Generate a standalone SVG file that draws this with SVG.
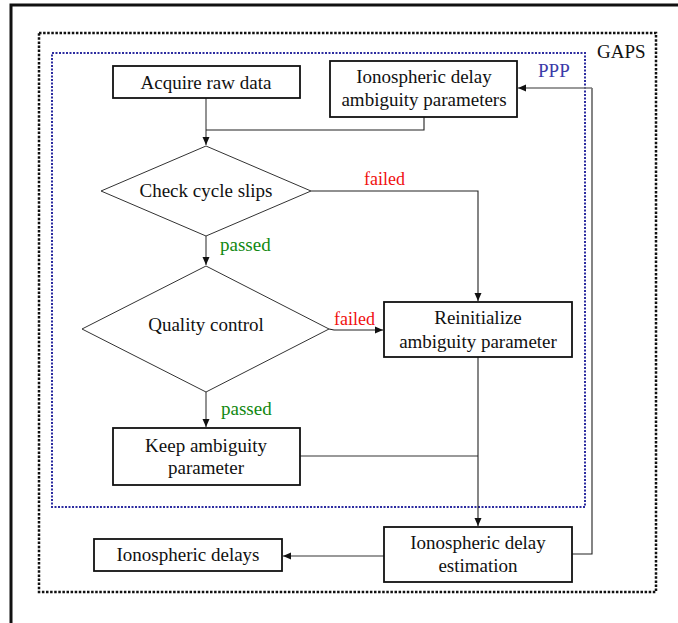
<svg xmlns="http://www.w3.org/2000/svg" width="678" height="623" viewBox="0 0 678 623">
<style>
text{font-family:'Liberation Serif','Times New Roman',serif;font-size:19px;fill:#111}
.box{fill:#fff;stroke:#111;stroke-width:1.8}
.dia{fill:#fff;stroke:#333;stroke-width:1}
.ln{fill:none;stroke:#222;stroke-width:1.1}
.lg{fill:none;stroke:#777;stroke-width:1.6}
</style>
<defs>
<marker id="ah" viewBox="0 0 8 8" refX="8" refY="4" markerWidth="8" markerHeight="8" markerUnits="userSpaceOnUse" orient="auto">
<path d="M0,0.5 L8,4 L0,7.5 Z" fill="#111"/>
</marker>
</defs>
<rect x="11" y="5" width="720" height="720" fill="#fff" stroke="#111" stroke-width="3"/>
<g id="gaps">
<rect x="39" y="33" width="617" height="559" fill="none" stroke="#111" stroke-width="2.5" stroke-dasharray="2.5 1.6"/>
<text x="597" y="58">GAPS</text>
</g>
<g id="ppp">
<rect x="52" y="53" width="533" height="454" fill="none" stroke="#2c2ca0" stroke-width="2" stroke-dasharray="2 1.5"/>
<text x="538" y="77" style="fill:#3a3aa8">PPP</text>
</g>
<g id="connectors">
<path class="lg" d="M206,98 V145" marker-end="url(#ah)"/>
<path class="ln" d="M424,117 V130 H206"/>
<path class="ln" d="M311,191 H478 V301" marker-end="url(#ah)"/>
<path class="lg" d="M206,236 V265" marker-end="url(#ah)"/>
<path class="ln" d="M329,329 L334,330 H383" marker-end="url(#ah)"/>
<path class="lg" d="M206,392 V427" marker-end="url(#ah)"/>
<path class="lg" d="M300,456 H478"/>
<path class="ln" d="M478,357 V526" marker-end="url(#ah)"/>
<path class="lg" d="M384,556 H283" marker-end="url(#ah)"/>
<path class="ln" d="M572,554 H592 V88"/>
<path class="lg" d="M592,88 H518" marker-end="url(#ah)"/>
<text x="364" y="185" style="fill:#f01010;font-size:18px">failed</text>
<text x="334" y="325" style="fill:#f01010;font-size:18px">failed</text>
<text x="220" y="251" style="fill:#118811">passed</text>
<text x="221" y="415" style="fill:#118811">passed</text>
</g>
<g id="acquire">
<rect class="box" x="113" y="66" width="187" height="32"/>
<text x="206" y="89" text-anchor="middle">Acquire raw data</text>
</g>
<g id="ionoparams">
<rect class="box" x="330" y="61" width="187" height="56"/>
<text x="424" y="83" text-anchor="middle">Ionospheric delay</text>
<text x="424" y="106" text-anchor="middle">ambiguity parameters</text>
</g>
<g id="cycleslips">
<polygon class="dia" points="206,146 311,191 206,236 101,191"/>
<text x="206" y="197" text-anchor="middle">Check cycle slips</text>
</g>
<g id="quality">
<polygon class="dia" points="206,266 329,329 206,392 82,329"/>
<text x="206" y="331" text-anchor="middle">Quality control</text>
</g>
<g id="reinit">
<rect class="box" x="384" y="302" width="188" height="55"/>
<text x="478" y="324" text-anchor="middle">Reinitialize</text>
<text x="478" y="348" text-anchor="middle">ambiguity parameter</text>
</g>
<g id="keep">
<rect class="box" x="113" y="428" width="187" height="57"/>
<text x="206" y="452" text-anchor="middle">Keep ambiguity</text>
<text x="206" y="474" text-anchor="middle">parameter</text>
</g>
<g id="estimation">
<rect class="box" x="384" y="527" width="188" height="55"/>
<text x="478" y="549" text-anchor="middle">Ionospheric delay</text>
<text x="478" y="572" text-anchor="middle">estimation</text>
</g>
<g id="delays">
<rect class="box" x="94" y="539" width="188" height="32"/>
<text x="188" y="561" text-anchor="middle">Ionospheric delays</text>
</g>
</svg>
